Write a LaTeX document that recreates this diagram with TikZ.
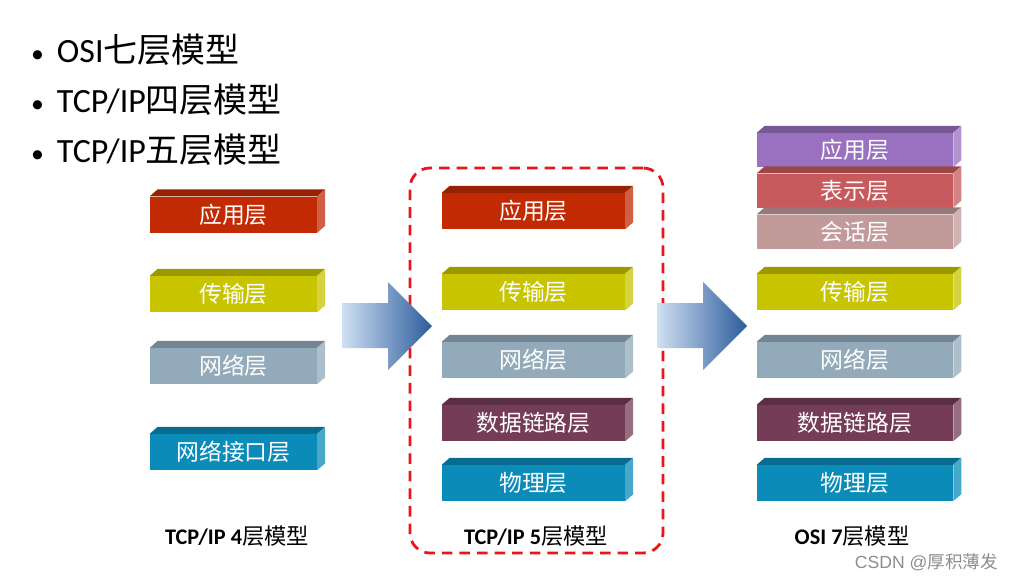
\documentclass[tikz,border=0pt]{standalone}
\usepackage{fontspec}
\setmainfont{Carlito}
\newfontfamily\cjk{Noto Sans CJK SC}
\newfontfamily\wmk{Liberation Sans}
\usetikzlibrary{positioning}

\definecolor{appred}{HTML}{C22A04}
\definecolor{trnyel}{HTML}{C8C400}
\definecolor{netgry}{HTML}{93AABB}
\definecolor{linkpur}{HTML}{743C56}
\definecolor{phyblu}{HTML}{0A8BB8}
\definecolor{osiapp}{HTML}{9A70C0}
\definecolor{osipre}{HTML}{C65A5C}
\definecolor{osises}{HTML}{C39A9A}
\definecolor{frmred}{HTML}{E8161B}
\definecolor{arlite}{HTML}{CFE0F2}
\definecolor{ardark}{HTML}{2C5C9C}

\begin{document}
\begin{tikzpicture}[x=0.03cm, y=-0.03cm,
    every node/.style={inner sep=0pt},
    lay/.style={fill=#1, text=white, minimum height=1.08cm, font=\cjk\fontsize{19.5}{21}\selectfont},
    lw4/.style={minimum width=5.01cm},
    lw5/.style={minimum width=5.49cm},
    lw7/.style={minimum width=5.88cm},
    mcap/.style={font=\bfseries\fontsize{19}{22}\selectfont},
    blt/.style={anchor=base west, font=\fontsize{29}{32}\selectfont},
    bigarr/.style={left color=arlite, right color=ardark, shading angle=90}
]
\useasboundingbox (0,0) rectangle (1017,579);

% bullet lines
\node[blt] (b1) at (31,62)  {{\fontsize{22}{24}\selectfont\textbullet}\hspace{11pt}OSI{\cjk 七层模型}};
\node[blt] (b2) at (31,112) {{\fontsize{22}{24}\selectfont\textbullet}\hspace{11pt}TCP/IP{\cjk 四层模型}};
\node[blt] (b3) at (31,162) {{\fontsize{22}{24}\selectfont\textbullet}\hspace{11pt}TCP/IP{\cjk 五层模型}};

% TCP/IP 4 layers
\node[lay=appred, lw4]  (fa) at (233.5,214.5) {应用层};
\node[lay=trnyel, lw4]  (fb) at (233.5,294)   {传输层};
\node[lay=netgry, lw4]  (fc) at (233.5,366)   {网络层};
\node[lay=phyblu, lw4]  (fd) at (233.5,452)   {网络接口层};

% TCP/IP 5 layers
\node[lay=appred, lw5]  (ga) at (533.5,211) {应用层};
\node[lay=trnyel, lw5]  (gb) at (533.5,292) {传输层};
\node[lay=netgry, lw5]  (gc) at (533.5,360) {网络层};
\node[lay=linkpur, lw5] (gd) at (533.5,423) {数据链路层};
\node[lay=phyblu, lw5]  (ge) at (533.5,483) {物理层};

% OSI 7 layers
\node[lay=osiapp, lw7, minimum height=1.02cm]  (sa) at (855,150)   {应用层};
\node[lay=osipre, lw7, minimum height=1.02cm]  (sb) at (855,190.5) {表示层};
\node[lay=osises, lw7, minimum height=1.02cm]  (sc) at (855,231.5) {会话层};
\node[lay=trnyel, lw7]  (sd) at (855,292) {传输层};
\node[lay=netgry, lw7]  (se) at (855,360) {网络层};
\node[lay=linkpur, lw7] (sf) at (855,423) {数据链路层};
\node[lay=phyblu, lw7]  (sg) at (855,483) {物理层};

% top and side faces
\foreach \n/\c in {fa/appred, fb/trnyel, fc/netgry, fd/phyblu,
                   ga/appred, gb/trnyel, gc/netgry, gd/linkpur, ge/phyblu,
                   sa/osiapp, sb/osipre, sc/osises, sd/trnyel, se/netgry, sf/linkpur, sg/phyblu} {
  \fill[\c!78!black] (\n.north west) -- ++(8,-7) -- ([shift={(8,-7)}]\n.north east) -- (\n.north east) -- cycle;
  \fill[\c!75!white] (\n.north east) -- ++(8,-7) -- ([shift={(8,-7)}]\n.south east) -- (\n.south east) -- cycle;
}

% dashed frame round the 5 layer model
\node[draw=frmred, line width=2.4pt, dash pattern=on 9pt off 6pt, rounded corners=0.6cm,
      minimum width=7.59cm, minimum height=11.55cm] (frame) at (536.5,360.5) {};

% big arrows
\shade[bigarr] (342,303) -- (388,303) -- (388,282) -- (432,326) -- (388,370) -- (388,348) -- (342,348) -- cycle;
\shade[bigarr] (657,303) -- (703,303) -- (703,282) -- (747,326) -- (703,370) -- (703,348) -- (657,348) -- cycle;

% captions
\node[mcap] (c4) at (237,536) {TCP/IP 4{\cjk\mdseries 层模型}};
\node[mcap] (c5) at (536,536) {TCP/IP 5{\cjk\mdseries 层模型}};
\node[mcap] (c7) at (852,536) {OSI 7{\cjk\mdseries 层模型}};

\node[anchor=base east, text=black!45, font=\wmk\fontsize{15}{17}\selectfont] (wm) at (998,568) {CSDN @{\cjk 厚积薄发}};
\end{tikzpicture}
\end{document}
